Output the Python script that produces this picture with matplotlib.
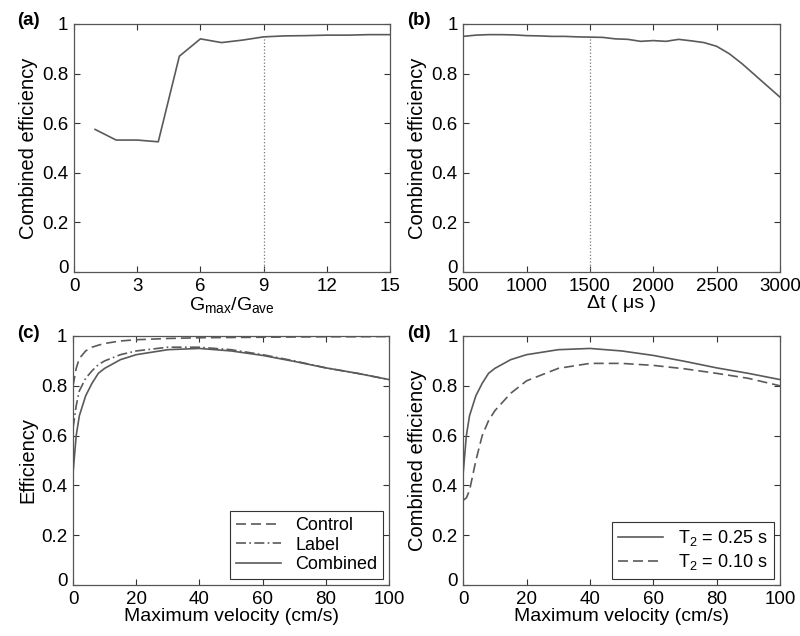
import matplotlib
matplotlib.use('Agg')
import matplotlib.pyplot as plt
import matplotlib.transforms as mtransforms

plt.rcParams['font.family'] = ['Liberation Sans', 'DejaVu Sans']
plt.rcParams['font.size'] = 13
plt.rcParams['mathtext.fontset'] = 'custom'
plt.rcParams['mathtext.rm'] = 'Liberation Sans'
plt.rcParams['mathtext.it'] = 'Liberation Sans'

# (a) gradient ratio
ratio = [1, 2, 3, 4, 5, 6, 7, 8, 9, 10, 11, 12, 13, 14, 15]
eff_ratio = [0.575, 0.532, 0.532, 0.525, 0.87, 0.94, 0.925, 0.935, 0.948,
             0.952, 0.953, 0.955, 0.955, 0.957, 0.957]

# (b) pulse spacing
dt = [500, 600, 700, 800, 900, 1000, 1100, 1200, 1300, 1400, 1500, 1600, 1700,
      1800, 1900, 2000, 2100, 2200, 2300, 2400, 2500, 2600, 2700, 2800, 2900, 3000]
eff_dt = [0.950, 0.955, 0.957, 0.957, 0.956, 0.953, 0.952, 0.950, 0.950, 0.948,
          0.947, 0.946, 0.940, 0.938, 0.930, 0.933, 0.930, 0.938, 0.932, 0.925,
          0.910, 0.880, 0.840, 0.795, 0.750, 0.705]

# (c)/(d) velocity
vel = [0, 1, 2, 4, 6, 8, 10, 15, 20, 30, 40, 50, 60, 70, 80, 90, 100]
control = [0.80, 0.87, 0.91, 0.94, 0.955, 0.963, 0.97, 0.98, 0.985, 0.99, 0.993,
           0.994, 0.995, 0.996, 0.997, 0.997, 0.998]
label = [0.63, 0.72, 0.78, 0.83, 0.86, 0.885, 0.90, 0.925, 0.94, 0.955, 0.955,
         0.945, 0.925, 0.90, 0.872, 0.85, 0.825]
combined = [0.45, 0.60, 0.68, 0.76, 0.81, 0.85, 0.87, 0.905, 0.925, 0.945, 0.95,
            0.94, 0.922, 0.898, 0.872, 0.85, 0.825]
t2_short = [0.34, 0.35, 0.38, 0.50, 0.60, 0.66, 0.70, 0.77, 0.82, 0.87, 0.89,
            0.89, 0.882, 0.868, 0.85, 0.83, 0.80]

line_col = '#5a5a5a'
yticks = [0, 0.2, 0.4, 0.6, 0.8, 1]
yticklabels = ['0', '0.2', '0.4', '0.6', '0.8', '1']

fig = plt.figure(figsize=(8, 6.36), dpi=100)
ax_a = fig.add_axes([0.0925, 0.5723, 0.395, 0.39])
ax_b = fig.add_axes([0.579, 0.5723, 0.396, 0.39])
ax_c = fig.add_axes([0.0913, 0.0802, 0.395, 0.3915])
ax_d = fig.add_axes([0.579, 0.0802, 0.396, 0.3915])

# small upward shift for the bottom "0" (like the original, it sits a bit high)
lift = mtransforms.ScaledTranslation(0, 4 / 72, fig.dpi_scale_trans)


def style(ax):
    ax.tick_params(direction='in', top=True, right=True, length=4, width=0.8,
                   colors='#333333', labelcolor='black', labelsize=13.5)
    ax.tick_params(axis='x', pad=4)
    ax.tick_params(axis='y', pad=4)
    for s in ax.spines.values():
        s.set_color('#555555')
        s.set_linewidth(0.9)
    ax.set_ylim(0, 1)
    ax.set_yticks(yticks)
    ax.set_yticklabels(yticklabels)
    t0 = ax.get_yticklabels()[0]
    t0.set_transform(t0.get_transform() + lift)


# (a)
ax_a.plot(ratio, eff_ratio, color=line_col, lw=1.2)
ax_a.plot([9, 9], [0, eff_ratio[8]], color='#777777', lw=0.9, ls=':')
ax_a.set_xlim(0, 15)
ax_a.set_xticks([0, 3, 6, 9, 12, 15])
style(ax_a)
ax_a.set_ylabel('Combined efficiency', fontsize=14.5, labelpad=3)
ax_a.set_xlabel(r'G$_{\mathrm{max}}$/G$_{\mathrm{ave}}$', fontsize=14, labelpad=0)

# (b)
ax_b.plot(dt, eff_dt, color=line_col, lw=1.2)
ax_b.plot([1500, 1500], [0, eff_dt[10]], color='#777777', lw=0.9, ls=':')
ax_b.set_xlim(500, 3000)
ax_b.set_xticks([500, 1000, 1500, 2000, 2500, 3000])
style(ax_b)
ax_b.set_ylabel('Combined efficiency', fontsize=14.5, labelpad=3)
ax_b.set_xlabel('\u0394t ( \u03bcs )', fontsize=14, labelpad=0)

# (c)
ax_c.plot(vel, control, color=line_col, lw=1.2, ls=(0, (6, 3)), label='Control')
ax_c.plot(vel, label, color=line_col, lw=1.2, ls=(0, (6, 2, 1, 2)), label='Label')
ax_c.plot(vel, combined, color=line_col, lw=1.2, label='Combined')
ax_c.set_xlim(0, 100)
ax_c.set_xticks([0, 20, 40, 60, 80, 100])
style(ax_c)
ax_c.set_ylabel('Efficiency', fontsize=14.5, labelpad=3)
ax_c.set_xlabel('Maximum velocity (cm/s)', fontsize=14, labelpad=0)
leg = ax_c.legend(loc='lower right', fancybox=False, edgecolor='#333333',
                  framealpha=1, fontsize=13, handlelength=2.5,
                  borderaxespad=0.35, labelspacing=0.15, borderpad=0.3)
leg.get_frame().set_linewidth(0.8)

# (d)
ax_d.plot(vel, combined, color=line_col, lw=1.2, label=r'T$_2$ = 0.25 s')
ax_d.plot(vel, t2_short, color=line_col, lw=1.2, ls=(0, (6, 3)),
          label=r'T$_2$ = 0.10 s')
ax_d.set_xlim(0, 100)
ax_d.set_xticks([0, 20, 40, 60, 80, 100])
style(ax_d)
ax_d.set_ylabel('Combined efficiency', fontsize=14.5, labelpad=3)
ax_d.set_xlabel('Maximum velocity (cm/s)', fontsize=14, labelpad=0)
leg = ax_d.legend(loc='lower right', fancybox=False, edgecolor='#333333',
                  framealpha=1, fontsize=13, handlelength=2.5,
                  borderaxespad=0.35, labelspacing=0.25, borderpad=0.35)
leg.get_frame().set_linewidth(0.8)

for txt, x, y in [('(a)', 0.021, 0.968), ('(b)', 0.509, 0.968),
                  ('(c)', 0.021, 0.476), ('(d)', 0.509, 0.476)]:
    fig.text(x, y, txt, fontsize=13.5, fontweight='bold', va='center')

fig.savefig('out.png', dpi=100, facecolor='white')
